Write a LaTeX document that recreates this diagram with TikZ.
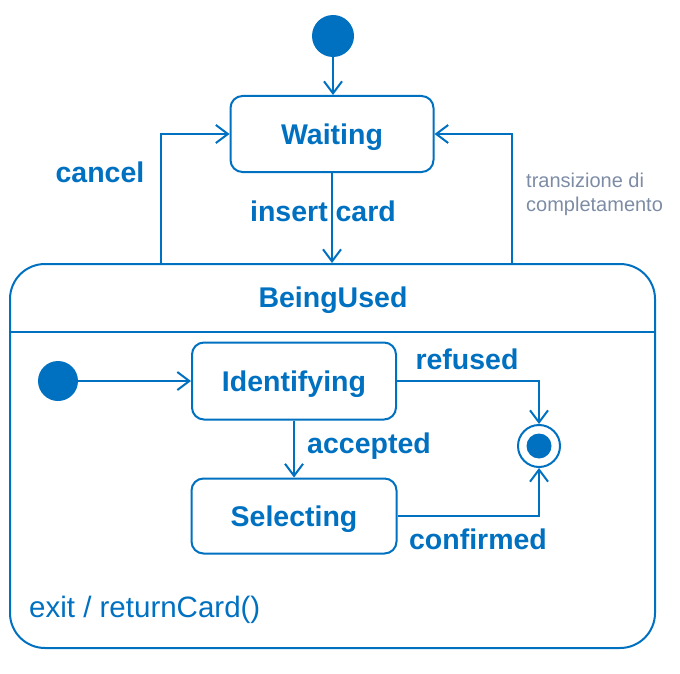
\documentclass[tikz,border=0pt]{standalone}
\usepackage{fontspec}
\setmainfont{Liberation Sans}
\usetikzlibrary{arrows.meta}
\definecolor{umlblue}{RGB}{0,112,192}
\definecolor{notegray}{RGB}{125,140,165}
\begin{document}
\begin{tikzpicture}[x=1pt,y=-1pt,
  statebox/.style={draw=umlblue, line width=2pt, rounded corners=12pt, text=umlblue,
     font=\bfseries\fontsize{28.5}{34}\selectfont, inner sep=0pt, text depth=0pt},
  initdot/.style={circle, fill=umlblue, inner sep=0pt, minimum size=42pt},
  trans/.style={draw=umlblue, line width=2pt, -{Straight Barb[length=12pt,width=18pt]}},
  lbl/.style={text=umlblue, font=\bfseries\fontsize{28.5}{34}\selectfont, inner sep=0pt},
  note/.style={text=notegray, font=\fontsize{20}{24}\selectfont, align=left, inner sep=0pt}
]
\useasboundingbox (0,0) rectangle (680,674);

% composite state
\node[draw=umlblue, line width=2pt, rounded corners=35pt, minimum width=645pt, minimum height=384pt, inner sep=0pt] (used) at (332.5,456) {};
\coordinate (div) at (0,332);
\draw[umlblue, line width=2pt] (used.west |- div) -- (used.east |- div);
\node[lbl, text depth=0pt] (usedname) at (333,297) {BeingUsed};
\node[lbl, font=\fontsize{29.5}{34}\selectfont, anchor=west] (exitact) at (29,610) {exit / returnCard()};

% top level
\node[initdot] (init) at (333,36) {};
\node[statebox, minimum width=203pt, minimum height=76pt] (wait) at (332,134) {Waiting};
\draw[trans] (init) -- (init |- wait.north);
\draw[trans] (wait.south) -- (wait.south |- used.north);
\node[lbl] (lins) at (323,211) {insert card};

\coordinate (cl) at (161,264);
\coordinate (cr) at (512,264);
\draw[trans] (cl) |- (wait.west);
\draw[trans] (cr) |- (wait.east);
\node[lbl] (lcancel) at (100,172) {cancel};
\node[note, anchor=west] (lcompl) at (526,194) {transizione di\\completamento};

% inner
\node[initdot, minimum size=40pt] (init2) at (58,381) {};
\node[statebox, minimum width=204pt, minimum height=77pt] (ident) at (294,381) {Identifying};
\node[statebox, minimum width=205pt, minimum height=75pt] (sel) at (294,516) {Selecting};
\node[circle, draw=umlblue, line width=2pt, inner sep=0pt, minimum size=42pt] (fin) at (539,446) {};
\node[circle, fill=umlblue, inner sep=0pt, minimum size=25pt] (fininner) at (fin) {};

\draw[trans] (init2) -- (ident.west);
\draw[trans] (ident.south) -- (sel.north);
\draw[trans] (ident.east) -| (fin.north);
\draw[trans] (sel.east) -| (fin.south);

\node[lbl] (lref) at (467,359) {refused};
\node[lbl] (lacc) at (369,446) {accepted};
\node[lbl] (lconf) at (478,539) {confirmed};
\end{tikzpicture}
\end{document}
